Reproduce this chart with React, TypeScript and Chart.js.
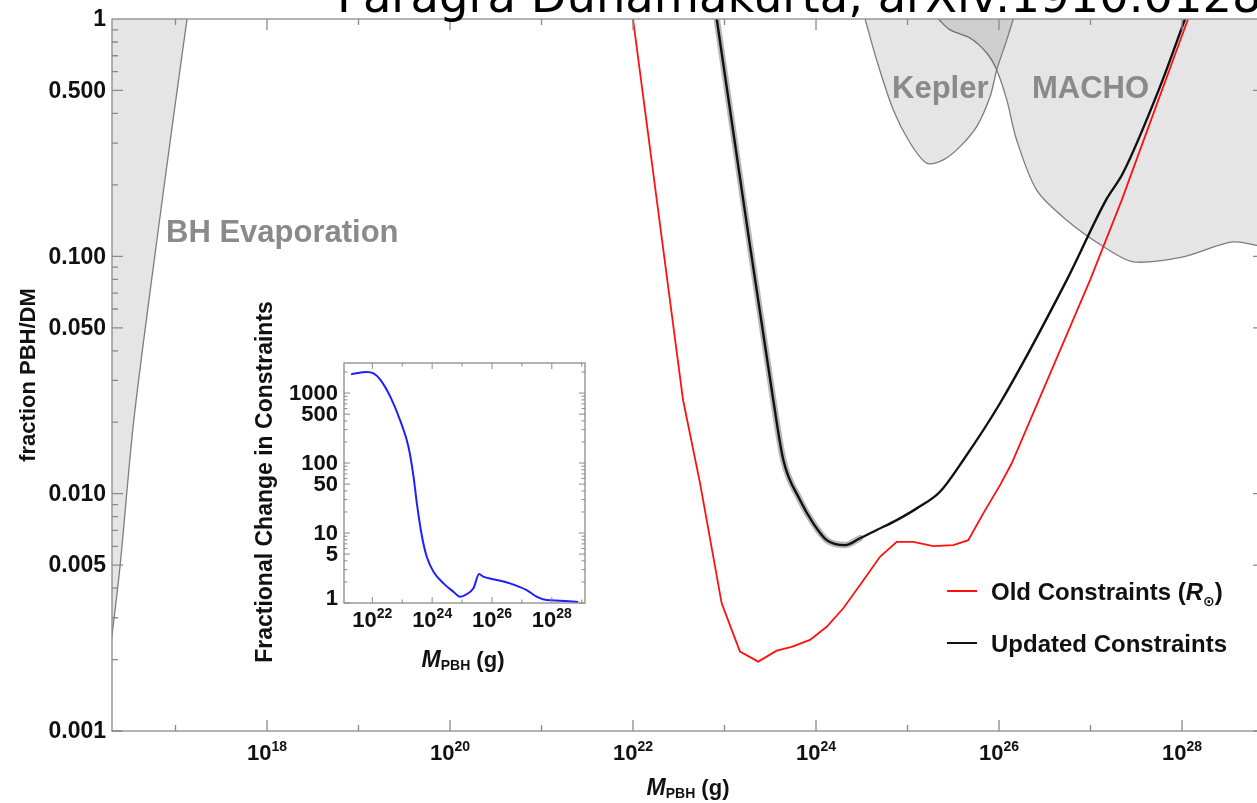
import React, { useEffect, useRef } from "react";
import { Chart, registerables } from "chart.js";

Chart.register(...registerables);

const SANS = "'Liberation Sans', Arial, 'DejaVu Sans', sans-serif";

// ---------- main plot data (mass as log10 of grams, fraction PBH/DM) ----------
const massRangeExp = [16.306, 28.896];
const fractionRange = [0.001, 1];

const xTickExps = [17, 18, 19, 20, 21, 22, 23, 24, 25, 26, 27, 28];
const xLabelExps = [18, 20, 22, 24, 26, 28];
const yTickValues = [1, 0.5, 0.1, 0.05, 0.01, 0.005, 0.001];
const yTickLabels = ["1", "0.500", "0.100", "0.050", "0.010", "0.005", "0.001"];

const oldMassExp = [22.0, 22.547, 22.732, 22.969, 23.169, 23.369, 23.57, 23.734, 23.934, 24.117, 24.298, 24.481, 24.699, 24.882, 25.063, 25.282, 25.501, 25.664, 25.828, 26.011, 26.139, 26.995, 27.341, 28.066];
const oldFraction = [1, 0.0248, 0.0111, 0.00345, 0.00216, 0.00196, 0.00218, 0.00226, 0.00242, 0.00275, 0.00329, 0.00412, 0.00542, 0.00627, 0.00627, 0.00601, 0.00607, 0.00637, 0.00826, 0.01086, 0.01343, 0.0794, 0.1726, 1];

const updMassExp = [22.915, 23.205, 23.533, 23.643, 23.825, 23.97, 24.117, 24.317, 24.481, 24.663, 24.882, 25.101, 25.355, 25.61, 26.011, 26.74, 27.169, 27.355, 27.76, 28.033];
const updFraction = [1, 0.1726, 0.0248, 0.01387, 0.0094, 0.0075, 0.00637, 0.00607, 0.00649, 0.00703, 0.00774, 0.00867, 0.01019, 0.01387, 0.02404, 0.0794, 0.1726, 0.2244, 0.519, 1];

const bhEvapMassExp = [16.29, 16.393, 16.536, 16.71, 16.973, 17.126];
const bhEvapFraction = [0.00224, 0.00491, 0.0191, 0.0655, 0.375, 1];

const keplerMassExp = [24.536, 24.663, 24.845, 25.027, 25.21, 25.391, 25.574, 25.756, 25.902, 25.975, 26.085, 26.156];
const keplerFraction = [1, 0.671, 0.414, 0.301, 0.247, 0.255, 0.29, 0.352, 0.47, 0.61, 0.817, 1];

const machoMassExp = [25.337, 25.464, 25.683, 25.866, 25.975, 26.085, 26.193, 26.412, 26.74, 27.14, 27.468, 28.014, 28.557, 28.95];
const machoFraction = [1, 0.9, 0.832, 0.719, 0.61, 0.456, 0.309, 0.19, 0.142, 0.11, 0.0948, 0.0995, 0.115, 0.108];

const legendLabels = ["Old Constraints (", "Updated Constraints"];
const regionLabels = ["BH Evaporation", "Kepler", "MACHO"];
const headerText = "Paragra Dunamakurta, arXiv:1910.0128";

// ---------- inset data ----------
const insetRangeExp = [21.053, 29.11];
const insetChangeRange = [1, 2690];
const insetXLabelExps = [22, 24, 26, 28];
const insetYTickValues = [1000, 500, 100, 50, 10, 5, 1];
const insetYTickLabels = ["1000", "500", "100", "50", "10", "5", "1"];
const insetMassExp = [21.29, 21.82, 22.04, 22.27, 22.6, 22.93, 23.21, 23.38, 23.49, 23.66, 23.82, 24.04, 24.38, 24.71, 24.93, 25.1, 25.38, 25.57, 25.71, 26.04, 26.6, 27.16, 27.49, 27.82, 28.27, 28.88];
const insetChange = [1862, 1995, 1905, 1549, 891, 407, 170, 63.1, 26.3, 8.91, 4.57, 2.82, 1.91, 1.45, 1.23, 1.3, 1.62, 2.59, 2.38, 2.19, 1.91, 1.53, 1.23, 1.1, 1.08, 1.03];

const pts = (xs: number[], ys: number[]) => xs.map((e, i) => ({ x: Math.pow(10, e), y: ys[i] }));

const RED = "#ff1010";
const BLACK = "#111111";
const BLUE = "#1f1fff";
const FRAME = "#8a8a8a";
const REGION_FILL = "rgba(0,0,0,0.1)";
const REGION_LINE = "#7c7c7c";

type Part = { text: string; font: string; dy?: number };
function richWidth(ctx: CanvasRenderingContext2D, parts: Part[]) {
  let w = 0;
  for (const p of parts) { ctx.font = p.font; w += ctx.measureText(p.text).width; }
  return w;
}
function drawRich(ctx: CanvasRenderingContext2D, parts: Part[], x: number, y: number) {
  let cx = x;
  for (const p of parts) {
    ctx.font = p.font;
    ctx.fillText(p.text, cx, y + (p.dy || 0));
    cx += ctx.measureText(p.text).width;
  }
}
function powLabel(ctx: CanvasRenderingContext2D, exp: number, cx: number, base: number, big: number, small: number, rise: number) {
  const parts: Part[] = [
    { text: "10", font: `bold ${big}px ${SANS}` },
    { text: String(exp), font: `bold ${small}px ${SANS}`, dy: -rise },
  ];
  const w = richWidth(ctx, parts);
  drawRich(ctx, parts, cx - w / 2, base);
}

const mainDecor = {
  id: "mainDecor",
  afterDatasetsDraw(chart: any) {
    const { ctx, chartArea: a, scales } = chart;
    const x = scales.x, y = scales.y;
    ctx.save();
    // frame
    ctx.strokeStyle = FRAME;
    ctx.lineWidth = 1.3;
    ctx.strokeRect(a.left, a.top, a.right - a.left, a.bottom - a.top);
    ctx.beginPath();
    for (const e of xTickExps) {
      const px = x.getPixelForValue(Math.pow(10, e));
      const len = xLabelExps.includes(e) ? 11 : 6;
      ctx.moveTo(px, a.bottom); ctx.lineTo(px, a.bottom - len);
      ctx.moveTo(px, a.top); ctx.lineTo(px, a.top + len);
    }
    for (let d = -3; d < 0; d++) {
      for (let k = 1; k <= 9; k++) {
        const v = k * Math.pow(10, d);
        const py = y.getPixelForValue(v);
        const len = k === 1 || k === 5 ? 11 : 6;
        ctx.moveTo(a.left, py); ctx.lineTo(a.left + len, py);
        ctx.moveTo(a.right, py); ctx.lineTo(a.right - len, py);
      }
    }
    ctx.stroke();

    // tick labels
    ctx.fillStyle = "#111";
    ctx.textAlign = "right";
    ctx.textBaseline = "middle";
    ctx.font = `bold 23px ${SANS}`;
    yTickValues.forEach((v, i) => {
      ctx.fillText(yTickLabels[i], a.left - 6, y.getPixelForValue(v) + 1);
    });
    ctx.textAlign = "left";
    ctx.textBaseline = "alphabetic";
    for (const e of xLabelExps) {
      powLabel(ctx, e, x.getPixelForValue(Math.pow(10, e)), a.bottom + 29, 22, 14, 9);
    }

    // axis titles
    const xt: Part[] = [
      { text: "M", font: `italic bold 23px ${SANS}` },
      { text: "PBH", font: `bold 14px ${SANS}`, dy: 3 },
      { text: " (g)", font: `bold 22px ${SANS}` },
    ];
    drawRich(ctx, xt, 688 - richWidth(ctx, xt) / 2, 795);
    ctx.save();
    ctx.translate(27, 375);
    ctx.rotate(-Math.PI / 2);
    ctx.textAlign = "center";
    ctx.font = `bold 22px ${SANS}`;
    ctx.fillText("fraction PBH/DM", 0, 8);
    ctx.restore();

    // region labels
    ctx.fillStyle = "#8a8a8a";
    ctx.font = `bold 31px ${SANS}`;
    ctx.textBaseline = "middle";
    ctx.fillText(regionLabels[0], 166, 233);
    ctx.fillText(regionLabels[1], 892, 89);
    ctx.fillText(regionLabels[2], 1032, 89);

    // legend
    const legendColors = [RED, BLACK];
    const ly = [591, 643];
    legendColors.forEach((c, i) => {
      ctx.strokeStyle = c;
      ctx.lineWidth = 2;
      ctx.beginPath();
      ctx.moveTo(947, ly[i]); ctx.lineTo(977, ly[i]);
      ctx.stroke();
    });
    ctx.fillStyle = "#111";
    ctx.textBaseline = "alphabetic";
    drawRich(ctx, [
      { text: legendLabels[0], font: `bold 24px ${SANS}` },
      { text: "R", font: `italic bold 24px ${SANS}` },
      { text: "\u2299", font: `bold 14px 'DejaVu Sans', ${SANS}`, dy: 6 },
      { text: ")", font: `bold 24px ${SANS}` },
    ], 991, ly[0] + 9);
    ctx.font = `bold 24px ${SANS}`;
    ctx.fillText(legendLabels[1], 991, ly[1] + 9);
    ctx.restore();
  },
  afterDraw(chart: any) {
    const ctx = chart.ctx;
    ctx.save();
    ctx.fillStyle = "#000";
    ctx.textBaseline = "alphabetic";
    ctx.font = `42px 'DejaVu Sans', sans-serif`;
    const w = ctx.measureText(headerText).width;
    const size = 42 * 925 / w;
    ctx.font = `${size}px 'DejaVu Sans', sans-serif`;
    ctx.fillText(headerText, 337, 12);
    ctx.restore();
  },
};

const insetDecor = {
  id: "insetDecor",
  afterDatasetsDraw(chart: any) {
    const { ctx, chartArea: a, scales } = chart;
    const x = scales.x, y = scales.y;
    ctx.save();
    ctx.strokeStyle = FRAME;
    ctx.lineWidth = 1.3;
    ctx.strokeRect(a.left, a.top, a.right - a.left, a.bottom - a.top);
    ctx.lineWidth = 1;
    ctx.beginPath();
    for (let e = 22; e <= 29; e++) {
      const px = x.getPixelForValue(Math.pow(10, e));
      const len = e % 2 === 0 ? 6 : 3.5;
      ctx.moveTo(px, a.bottom); ctx.lineTo(px, a.bottom - len);
      ctx.moveTo(px, a.top); ctx.lineTo(px, a.top + len);
    }
    for (let d = 0; d <= 3; d++) {
      for (let k = 1; k <= 9; k++) {
        const v = k * Math.pow(10, d);
        if (v > insetChangeRange[1]) continue;
        const py = y.getPixelForValue(v);
        const len = k === 1 || k === 5 ? 6 : 3.5;
        ctx.moveTo(a.left, py); ctx.lineTo(a.left + len, py);
        ctx.moveTo(a.right, py); ctx.lineTo(a.right - len, py);
      }
    }
    ctx.stroke();

    ctx.fillStyle = "#111";
    ctx.textAlign = "right";
    ctx.textBaseline = "middle";
    ctx.font = `bold 22px ${SANS}`;
    insetYTickValues.forEach((v, i) => {
      const py = y.getPixelForValue(v);
      ctx.fillText(insetYTickLabels[i], a.left - 6, v === 1 ? py - 4 : py + 1);
    });
    ctx.textAlign = "left";
    ctx.textBaseline = "alphabetic";
    for (const e of insetXLabelExps) {
      powLabel(ctx, e, x.getPixelForValue(Math.pow(10, e)), a.bottom + 24, 22, 14, 9);
    }
    const xt: Part[] = [
      { text: "M", font: `italic bold 23px ${SANS}` },
      { text: "PBH", font: `bold 14px ${SANS}`, dy: 3 },
      { text: " (g)", font: `bold 22px ${SANS}` },
    ];
    drawRich(ctx, xt, 463 - richWidth(ctx, xt) / 2, 667);
    ctx.save();
    ctx.translate(264, 482);
    ctx.rotate(-Math.PI / 2);
    ctx.textAlign = "center";
    ctx.font = `bold 23px ${SANS}`;
    ctx.fillText("Fractional Change in Constraints", 0, 8);
    ctx.restore();
    ctx.restore();
  },
};

function mainConfig(): any {
  const region = (xs: number[], ys: number[], order: number) => ({
    data: pts(xs, ys),
    borderColor: REGION_LINE,
    borderWidth: 1.3,
    backgroundColor: REGION_FILL,
    fill: "end",
    pointRadius: 0,
    tension: 0.3,
    order,
  });
  return {
    type: "line",
    data: {
      datasets: [
        { label: legendLabels[0], data: pts(oldMassExp, oldFraction), borderColor: RED, borderWidth: 1.8, pointRadius: 0, fill: false, tension: 0, order: 1 },
        { label: legendLabels[1], data: pts(updMassExp, updFraction), borderColor: BLACK, borderWidth: 2.4, pointRadius: 0, fill: false, cubicInterpolationMode: "monotone", order: 0 },
        { label: "band", data: pts(updMassExp.slice(0, 9), updFraction.slice(0, 9)), borderColor: "rgba(0,0,0,0.28)", borderWidth: 6.5, pointRadius: 0, fill: false, cubicInterpolationMode: "monotone", borderCapStyle: "round", order: 2 },
        region(bhEvapMassExp, bhEvapFraction, 5),
        region(keplerMassExp, keplerFraction, 6),
        region(machoMassExp, machoFraction, 7),
      ],
    },
    options: {
      responsive: false,
      animation: false,
      events: [],
      layout: { padding: { left: 112, top: 19, right: 6, bottom: 72 } },
      plugins: { legend: { display: false }, tooltip: { enabled: false }, title: { display: false } },
      scales: {
        x: { type: "logarithmic", display: false, bounds: "data", min: Math.pow(10, massRangeExp[0]), max: Math.pow(10, massRangeExp[1]) },
        y: { type: "logarithmic", display: false, bounds: "data", min: fractionRange[0], max: fractionRange[1] },
      },
    },
    plugins: [mainDecor],
  };
}

function insetConfig(): any {
  return {
    type: "line",
    data: {
      datasets: [
        { label: "Fractional Change", data: pts(insetMassExp, insetChange), borderColor: BLUE, borderWidth: 2, pointRadius: 0, fill: false, cubicInterpolationMode: "monotone" },
      ],
    },
    options: {
      responsive: false,
      animation: false,
      events: [],
      layout: { padding: { left: 344, top: 363, right: 1270 - 585, bottom: 803 - 603 } },
      plugins: { legend: { display: false }, tooltip: { enabled: false }, title: { display: false } },
      scales: {
        x: { type: "logarithmic", display: false, bounds: "data", min: Math.pow(10, insetRangeExp[0]), max: Math.pow(10, insetRangeExp[1]) },
        y: { type: "logarithmic", display: false, bounds: "data", min: insetChangeRange[0], max: insetChangeRange[1] },
      },
    },
    plugins: [insetDecor],
  };
}

export default function App() {
  const mainRef = useRef<HTMLCanvasElement>(null);
  const insetRef = useRef<HTMLCanvasElement>(null);
  useEffect(() => {
    const main = new Chart(mainRef.current as HTMLCanvasElement, mainConfig());
    const inset = new Chart(insetRef.current as HTMLCanvasElement, insetConfig());
    return () => {
      main.destroy();
      inset.destroy();
    };
  }, []);
  return (
    <div style={{ position: "fixed", left: 0, top: 0, width: 1257, height: 803, overflow: "hidden", background: "#fff" }}>
      <canvas ref={mainRef} width={1270} height={803} style={{ position: "absolute", left: 0, top: 0 }} />
      <canvas ref={insetRef} width={1270} height={803} style={{ position: "absolute", left: 0, top: 0 }} />
    </div>
  );
}
